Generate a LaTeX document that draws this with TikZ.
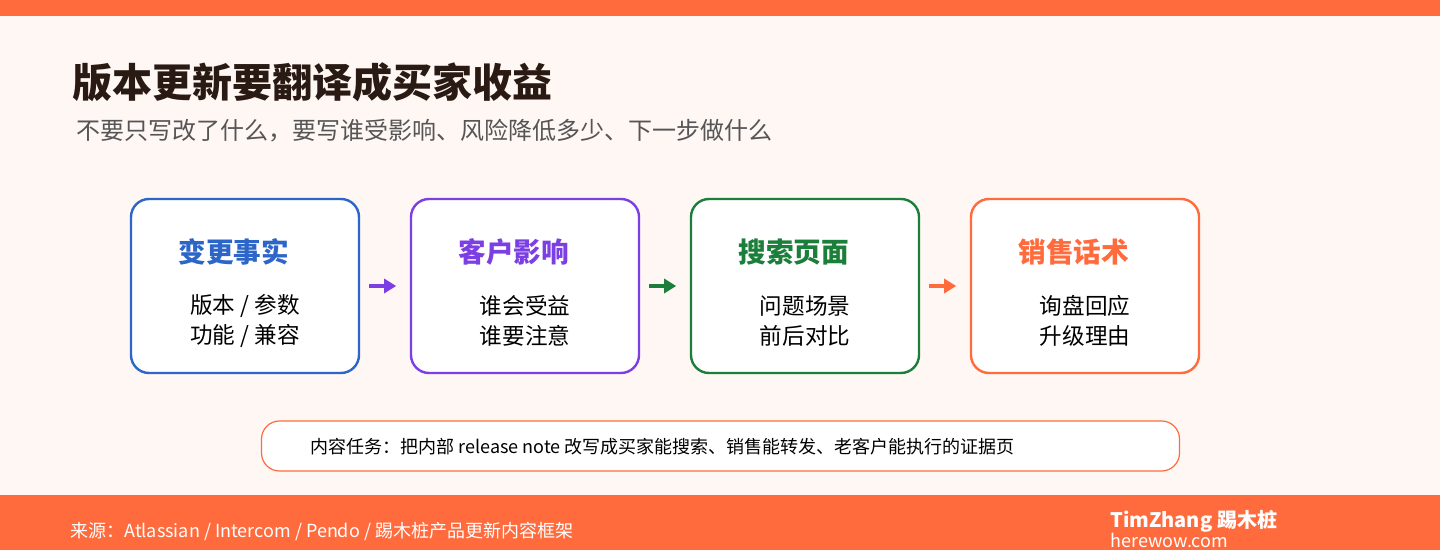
\documentclass[tikz,border=0pt]{standalone}
\usepackage{fontspec}
\setmainfont{Noto Sans CJK SC}
\usetikzlibrary{arrows.meta}
\definecolor{bg}{HTML}{FFF7F3}
\definecolor{org}{HTML}{FF6B3D}
\definecolor{cblue}{HTML}{2B66C8}
\definecolor{cpur}{HTML}{7B3FE4}
\definecolor{cgrn}{HTML}{1B7F3B}
\definecolor{ttl}{HTML}{2A1A14}
\definecolor{sub}{HTML}{555555}
\tikzset{
 card/.style={draw=#1,line width=1.2pt,rounded corners=9pt,fill=white,minimum width=114pt,minimum height=87pt},
 ctitle/.style={text=#1,font=\fontsize{13.8}{16}\selectfont\bfseries,anchor=west,inner sep=0},
 cbody/.style={font=\fontsize{11.3}{15}\selectfont,align=center,text=black},
 arr/.style={-{Triangle[length=6pt,width=7pt]},line width=2pt,draw=#1}
}
\begin{document}
\begin{tikzpicture}[x=0.5pt,y=-0.5pt]
\useasboundingbox (0,0) rectangle (1440,550);
\fill[bg] (0,0) rectangle (1440,550);
\fill[org] (0,0) rectangle (1440,16);
\fill[org] (0,495) rectangle (1440,550);
\node[anchor=west,text=ttl,font=\fontsize{20}{23}\selectfont\bfseries,inner sep=0] (title) at (72,82) {版本更新要翻译成买家收益};
\node[anchor=west,text=sub,font=\fontsize{12}{14}\selectfont,inner sep=0] (subt) at (76,131) {不要只写改了什么，要写谁受影响、风险降低多少、下一步做什么};
\foreach \n/\x/\c/\t/\a/\b in {b1/245/cblue/变更事实/{版本 / 参数}/{功能 / 兼容}, b2/525/cpur/客户影响/谁会受益/谁要注意, b3/805/cgrn/搜索页面/问题场景/前后对比, b4/1085/org/销售话术/询盘回应/升级理由}{
 \node[card=\c] (\n) at (\x,286) {};
 \node[ctitle=\c] (\n t) at (\x-67,252) {\t};
 \node[cbody] (\n b) at (\x,321) {\a\\\b};
}
\draw[arr=cpur] (b1.east)++(9,0) coordinate (a1s) -- ++(27,0) coordinate (a1e);
\draw[arr=cgrn] (b2.east)++(9,0) coordinate (a2s) -- ++(27,0) coordinate (a2e);
\draw[arr=org] (b3.east)++(9,0) coordinate (a3s) -- ++(27,0) coordinate (a3e);
\node[draw=org,line width=0.6pt,fill=white,rounded corners=9pt,minimum width=459pt,minimum height=25pt] (note) at (720.5,446) {};
\node[anchor=west,font=\fontsize{9}{10}\selectfont,inner sep=0] (notet) at (310,447) {内容任务：把内部 release note 改写成买家能搜索、销售能转发、老客户能执行的证据页};
\node[anchor=west,text=white,font=\fontsize{9}{10}\selectfont,inner sep=0] (src) at (70,531) {来源：Atlassian / Intercom / Pendo / 踢木桩产品更新内容框架};
\node[anchor=west,text=white,font=\fontsize{10}{11}\selectfont\bfseries,inner sep=0] (brand) at (1110,521) {TimZhang 踢木桩};
\node[anchor=west,text=white,font=\fontsize{9}{10}\selectfont,inner sep=0] (url) at (1110,540) {herewow.com};
\end{tikzpicture}
\end{document}
